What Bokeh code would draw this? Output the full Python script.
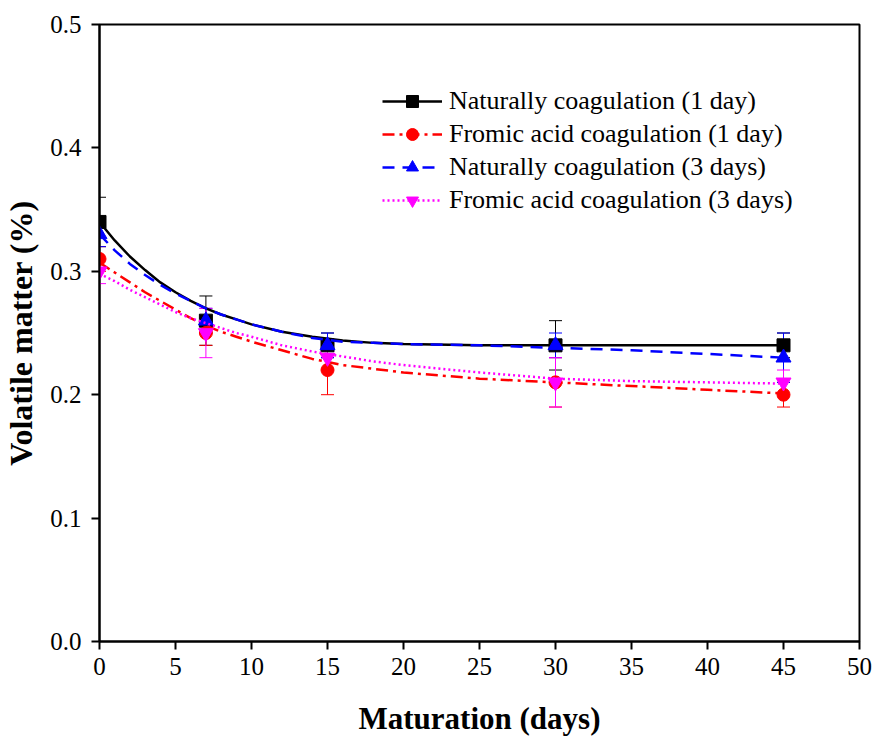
from bokeh.plotting import figure
from bokeh.models import (Range1d, FixedTicker, NumeralTickFormatter, Whisker,
                          ColumnDataSource, Legend, LegendItem, TeeHead)
from bokeh.embed import file_html
from bokeh.resources import INLINE

# ---- data ----
days = [0, 7, 15, 30, 45]

nat1 = [0.34, 0.26, 0.24, 0.24, 0.24]
nat1_err = [0.02, 0.02, 0.01, 0.02, 0.01]
form1 = [0.31, 0.25, 0.22, 0.21, 0.20]
form1_err = [0.01, 0.01, 0.02, 0.02, 0.01]
nat3 = [0.33, 0.26, 0.24, 0.24, 0.23]
nat3_err = [0.01, 0.01, 0.01, 0.01, 0.02]
form3 = [0.30, 0.25, 0.23, 0.21, 0.21]
form3_err = [0.01, 0.02, 0.01, 0.02, 0.01]

# fitted curves
fit_x = [0, 1, 2, 3, 4, 5, 6, 7, 8, 9, 10, 12, 14, 16, 18, 20, 25, 30, 35, 40, 45]
nat1_fit = [0.340, 0.325, 0.312, 0.301, 0.291, 0.283, 0.276, 0.270, 0.265, 0.261, 0.257,
            0.251, 0.247, 0.244, 0.242, 0.241, 0.240, 0.240, 0.240, 0.240, 0.240]
form1_fit = [0.307, 0.299, 0.291, 0.283, 0.276, 0.269, 0.262, 0.256, 0.251, 0.247, 0.243,
             0.236, 0.229, 0.224, 0.221, 0.218, 0.213, 0.210, 0.207, 0.204, 0.201]
nat3_fit = [0.330, 0.317, 0.306, 0.297, 0.289, 0.282, 0.276, 0.270, 0.265, 0.261, 0.257,
            0.251, 0.246, 0.243, 0.242, 0.241, 0.240, 0.238, 0.236, 0.233, 0.230]
form3_fit = [0.298, 0.292, 0.285, 0.279, 0.273, 0.267, 0.262, 0.258, 0.254, 0.250, 0.247,
             0.240, 0.235, 0.231, 0.227, 0.224, 0.218, 0.213, 0.211, 0.210, 0.209]

labels = ["Naturally coagulation (1 day)", "Fromic acid coagulation (1 day)",
          "Naturally coagulation (3 days)", "Fromic acid coagulation (3 days)"]
x_ticks = [0, 5, 10, 15, 20, 25, 30, 35, 40, 45, 50]
y_ticks = [0.0, 0.1, 0.2, 0.3, 0.4, 0.5]

FONT = "Liberation Serif"

p = figure(width=875, height=738, output_backend="svg", toolbar_location=None,
           x_range=Range1d(0, 50), y_range=Range1d(0, 0.5),
           min_border_left=99, min_border_right=16, min_border_top=24, min_border_bottom=96)
p.grid.visible = False
p.outline_line_color = "black"
p.outline_line_width = 2
p.background_fill_color = "white"
p.border_fill_color = "white"

for ax in (p.xaxis[0], p.yaxis[0]):
    ax.axis_line_width = 2
    ax.major_tick_line_width = 2
    ax.major_tick_out = 8
    ax.major_tick_in = 0
    ax.minor_tick_out = 0
    ax.minor_tick_in = 0
    ax.major_label_text_font = FONT
    ax.major_label_text_font_size = "25px"
    ax.major_label_text_color = "black"
    ax.axis_label_text_font = FONT
    ax.axis_label_text_font_style = "bold"
    ax.axis_label_text_color = "black"

p.xaxis.axis_label_text_font_size = "31px"
p.yaxis.axis_label_text_font_size = "32px"
p.xaxis.ticker = FixedTicker(ticks=x_ticks)
p.yaxis.ticker = FixedTicker(ticks=y_ticks)
p.yaxis.formatter = NumeralTickFormatter(format="0.0")
p.xaxis.axis_label = "Maturation (days)"
p.yaxis.axis_label = "Volatile matter (%)"
p.xaxis.major_label_standoff = 8
p.yaxis.major_label_standoff = 10
p.xaxis.axis_label_standoff = 23
p.yaxis.axis_label_standoff = 8

series = [
    (nat1, nat1_err, nat1_fit, "black", None, "square", 13),
    (form1, form1_err, form1_fit, "red", "12 5 3 5", "circle", 13),
    (nat3, nat3_err, nat3_fit, "blue", "12 8", "triangle", 15),
    (form3, form3_err, form3_fit, "magenta", "2 3", "inverted_triangle", 15),
]

items = []
for (vals, err, fit, color, dash, marker, size), label in zip(series, labels):
    if dash is None:
        ln = p.line(fit_x, fit, line_color=color, line_width=2.5)
    else:
        ln = p.line(fit_x, fit, line_color=color, line_width=2.5, line_dash=dash)
    sc = p.scatter(days, vals, marker=marker, size=size, fill_color=color, line_color=color)
    src = ColumnDataSource(dict(x=days,
                                lo=[v - e for v, e in zip(vals, err)],
                                hi=[v + e for v, e in zip(vals, err)]))
    w = Whisker(source=src, base="x", lower="lo", upper="hi", line_color=color, line_width=1,
                upper_head=TeeHead(size=13, line_color=color, line_width=1),
                lower_head=TeeHead(size=13, line_color=color, line_width=1))
    p.add_layout(w)
    items.append(LegendItem(label=label, renderers=[ln, sc]))

legend = Legend(items=items, location=(283, 426), glyph_width=60, glyph_height=30,
                label_standoff=7, spacing=3, padding=0, margin=0,
                label_text_font=FONT, label_text_font_size="26px", label_text_color="black",
                border_line_color=None, background_fill_alpha=0)
p.add_layout(legend, "center")

open("out.html", "w").write(file_html(p, INLINE))
